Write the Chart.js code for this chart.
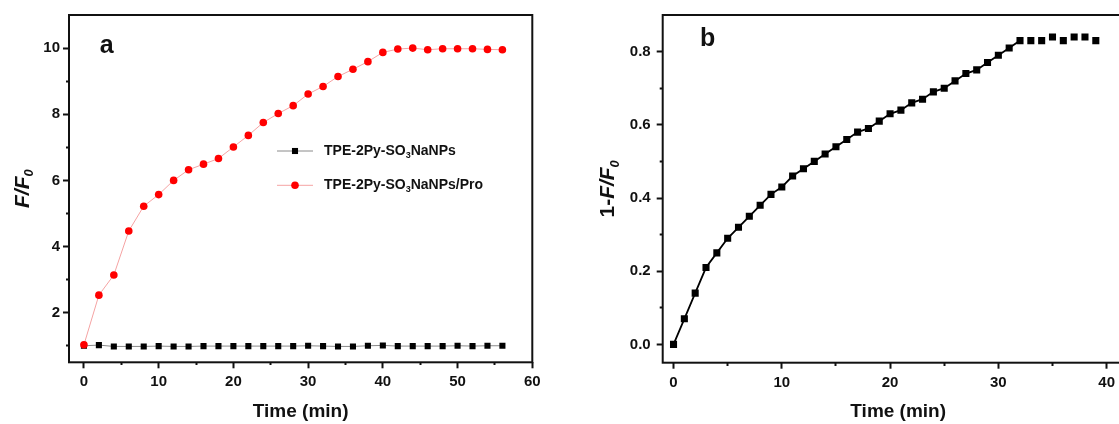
<!DOCTYPE html>
<html lang="en">
<head>
<meta charset="UTF-8">
<title>TPE-2Py-SO3NaNPs fluorescence vs time</title>
<script src="https://cdn.jsdelivr.net/npm/chart.js"></script>
<style>
    html, body {
        margin: 0;
        padding: 0;
        background: #ffffff;
        overflow: hidden;
    }
    .wrap {
        position: relative;
        width: 1119px;
        height: 424px;
        overflow: hidden;
    }
    #chartA { position: absolute; left: 0; top: 0; }
    #chartB { position: absolute; left: 560px; top: 0; }
</style>
</head>
<body>
<div class="wrap">
    <canvas id="chartA" width="560" height="424"></canvas>
    <canvas id="chartB" width="600" height="424"></canvas>
</div>
<script>
// panel a : F/F0 vs time
const timeA = [0, 2, 4, 6, 8, 10, 12, 14, 16, 18, 20, 22, 24, 26, 28, 30, 32, 34, 36, 38, 40, 42, 44, 46, 48, 50, 52, 54, 56];
const nanoOnly = [1.00, 1.02, 0.98, 0.98, 0.98, 0.99, 0.98, 0.98, 0.99, 0.99, 0.99, 0.99, 0.99, 0.99, 0.99, 1.00, 0.99, 0.98, 0.98, 1.00, 1.01, 0.99, 0.99, 0.99, 0.99, 1.00, 0.99, 1.00, 1.00];
const nanoPro = [1.03, 2.53, 3.14, 4.47, 5.22, 5.57, 6.00, 6.32, 6.49, 6.66, 7.01, 7.36, 7.75, 8.02, 8.26, 8.61, 8.84, 9.14, 9.36, 9.59, 9.87, 9.97, 10.00, 9.95, 9.98, 9.98, 9.98, 9.96, 9.95];
const labelsA = ['TPE-2Py-SO3NaNPs', 'TPE-2Py-SO3NaNPs/Pro'];

// panel b : 1-F/F0 vs time
const timeB = [0, 1, 2, 3, 4, 5, 6, 7, 8, 9, 10, 11, 12, 13, 14, 15, 16, 17, 18, 19, 20, 21, 22, 23, 24, 25, 26, 27, 28, 29, 30, 31, 32, 33, 34, 35, 36, 37, 38, 39];
const quench = [0.00, 0.07, 0.14, 0.21, 0.25, 0.29, 0.32, 0.35, 0.38, 0.41, 0.43, 0.46, 0.48, 0.50, 0.52, 0.54, 0.56, 0.58, 0.59, 0.61, 0.63, 0.64, 0.66, 0.67, 0.69, 0.70, 0.72, 0.74, 0.75, 0.77, 0.79, 0.81, 0.83, 0.83, 0.83, 0.84, 0.83, 0.84, 0.84, 0.83];

// ticks (majeurs = avec etiquette)
const xTicksA = [0, 5, 10, 15, 20, 25, 30, 35, 40, 45, 50, 55, 60];
const yTicksA = [1, 2, 3, 4, 5, 6, 7, 8, 9, 10];
const xTicksB = [0, 5, 10, 15, 20, 25, 30, 35, 40];
const yTicksB = [0, 0.1, 0.2, 0.3, 0.4, 0.5, 0.6, 0.7, 0.8];

const FONT = "'Liberation Sans', Arial, sans-serif";
const INK = '#111111';

// texte avec italique / indice
function richParts(ctx, parts, size) {
    return parts.map(p => {
        const s = p.sub ? Math.round(size * 0.62) : size;
        const font = (p.italic ? 'italic ' : '') + 'bold ' + s + 'px ' + FONT;
        ctx.font = font;
        return { text: p.text, font: font, dy: p.sub ? size * 0.32 : 0, w: ctx.measureText(p.text).width };
    });
}

function drawRich(ctx, parts, x, y, size, rotate) {
    const items = richParts(ctx, parts, size);
    const total = items.reduce((a, b) => a + b.w, 0);
    ctx.save();
    ctx.translate(x, y);
    if (rotate) ctx.rotate(-Math.PI / 2);
    ctx.textBaseline = 'middle';
    ctx.textAlign = 'left';
    ctx.fillStyle = INK;
    let cx = rotate ? -total / 2 : 0;
    items.forEach(it => {
        ctx.font = it.font;
        ctx.fillText(it.text, cx, it.dy);
        cx += it.w;
    });
    ctx.restore();
}

// "SO3" -> SO + indice 3
function labelParts(label) {
    const i = label.indexOf('SO3');
    if (i < 0) return [{ text: label }];
    return [{ text: label.slice(0, i + 2) }, { text: '3', sub: true }, { text: label.slice(i + 3) }];
}

function drawMarker(ctx, style, r, color, x, y) {
    ctx.fillStyle = color;
    ctx.beginPath();
    if (style === 'rect') {
        const s = r * Math.SQRT1_2;
        ctx.rect(x - s, y - s, 2 * s, 2 * s);
    } else {
        ctx.arc(x, y, r, 0, Math.PI * 2);
    }
    ctx.fill();
}

const decorPlugin = {
    id: 'decor',
    afterDraw(chart, args, opts) {
        const ctx = chart.ctx;
        const a = chart.chartArea;
        // cadre
        ctx.save();
        ctx.strokeStyle = INK;
        ctx.lineWidth = 2;
        ctx.strokeRect(a.left, a.top, a.right - a.left, a.bottom - a.top);
        ctx.restore();

        // lettre du panneau
        ctx.save();
        ctx.font = 'bold 25px ' + FONT;
        ctx.fillStyle = INK;
        ctx.textAlign = 'center';
        ctx.textBaseline = 'middle';
        ctx.fillText(opts.letter, a.left + opts.letterDx, a.top + opts.letterDy);
        ctx.restore();

        // titre axe y
        drawRich(ctx, opts.yTitle, a.left - opts.yTitleDx, (a.top + a.bottom) / 2, 21, true);

        // legende dans le graphe
        if (opts.legend) {
            const lg = opts.legend;
            lg.order.forEach((di, row) => {
                const ds = chart.data.datasets[di];
                const y = a.top + lg.dy + row * lg.rowGap;
                const x0 = a.left + lg.dx;
                ctx.save();
                ctx.strokeStyle = ds.borderColor;
                ctx.lineWidth = ds.borderWidth;
                ctx.beginPath();
                ctx.moveTo(x0, y);
                ctx.lineTo(x0 + lg.lineLen, y);
                ctx.stroke();
                drawMarker(ctx, ds.pointStyle, ds.pointRadius, ds.pointBackgroundColor, x0 + lg.lineLen / 2, y);
                ctx.restore();
                drawRich(ctx, labelParts(ds.label), x0 + lg.lineLen + lg.textGap, y, 14, false);
            });
        }
    }
};

function tickFont() {
    return { family: FONT, size: 15, weight: 'bold' };
}

// petites graduations : seulement la moitie interieure du trait
function gridOpts(isMinor, inward) {
    return {
        drawOnChartArea: false,
        drawTicks: true,
        tickLength: 6,
        tickWidth: 2,
        tickColor: INK,
        tickBorderDash: c => (c.tick && isMinor(c.tick.value) ? (inward ? [3, 20] : [0, 3, 3, 20]) : [])
    };
}

// graphique a
new Chart(document.getElementById('chartA'), {
    type: 'line',
    data: {
        datasets: [{
            label: labelsA[0],
            data: timeA.map((t, i) => ({ x: t, y: nanoOnly[i] })),
            borderColor: '#8a8a8a',
            borderWidth: 1,
            pointStyle: 'rect',
            pointRadius: 4.3,
            pointBorderWidth: 0,
            pointBackgroundColor: '#000000',
            order: 1
        }, {
            label: labelsA[1],
            data: timeA.map((t, i) => ({ x: t, y: nanoPro[i] })),
            borderColor: '#f5a3a3',
            borderWidth: 1,
            pointStyle: 'circle',
            pointRadius: 3.8,
            pointBorderWidth: 0,
            pointBackgroundColor: '#ff0000',
            order: 0
        }]
    },
    options: {
        responsive: false,
        animation: false,
        layout: { padding: { top: 15, right: 27.7, bottom: 0, left: 0 } },
        plugins: {
            legend: { display: false },
            tooltip: { enabled: false },
            decor: {
                letter: 'a', letterDx: 37.7, letterDy: 31.3,
                yTitle: [{ text: 'F/F', italic: true }, { text: '0', italic: true, sub: true }],
                yTitleDx: 46,
                legend: { order: [0, 1], dx: 208, dy: 136, rowGap: 34.3, lineLen: 36, textGap: 11 }
            }
        },
        scales: {
            x: {
                type: 'linear',
                min: -2,
                max: 60,
                afterBuildTicks: s => { s.ticks = xTicksA.map(v => ({ value: v })); },
                afterFit: s => { s.height = 61.7; },
                border: { display: false },
                grid: gridOpts(v => v % 10 !== 0, true),
                ticks: {
                    color: INK, font: tickFont(), padding: 5, maxRotation: 0,
                    callback: v => (v % 10 === 0 ? v : '')
                },
                title: {
                    display: true, text: 'Time (min)', color: INK,
                    font: { family: FONT, size: 19, weight: 'bold' },
                    padding: { top: 0, bottom: 1 }
                }
            },
            y: {
                type: 'linear',
                min: 0.5,
                max: 11,
                afterBuildTicks: s => { s.ticks = yTicksA.map(v => ({ value: v })); },
                afterFit: s => { s.width = 69; },
                border: { display: false },
                grid: gridOpts(v => v % 2 !== 0, false),
                ticks: {
                    color: INK, font: tickFont(), padding: 3,
                    callback: v => (v % 2 === 0 ? v : '')
                }
            }
        }
    },
    plugins: [decorPlugin]
});

// graphique b
new Chart(document.getElementById('chartB'), {
    type: 'line',
    data: {
        datasets: [{
            label: '1-F/F0',
            data: timeB.map((t, i) => ({ x: t, y: quench[i] })),
            borderColor: '#000000',
            borderWidth: 1.8,
            pointStyle: 'rect',
            pointRadius: 5,
            pointBorderWidth: 0,
            pointBackgroundColor: '#000000',
            segment: {
                borderColor: c => (c.p0.parsed.x >= 32 ? 'rgba(0,0,0,0)' : '#000000')
            }
        }]
    },
    options: {
        responsive: false,
        animation: false,
        layout: { padding: { top: 15, right: 26.3, bottom: 0, left: 0 } },
        plugins: {
            legend: { display: false },
            tooltip: { enabled: false },
            decor: {
                letter: 'b', letterDx: 45, letterDy: 24.5,
                yTitle: [{ text: '1-' }, { text: 'F/F', italic: true }, { text: '0', italic: true, sub: true }],
                yTitleDx: 54
            }
        },
        scales: {
            x: {
                type: 'linear',
                min: -1,
                max: 42.5,
                afterBuildTicks: s => { s.ticks = xTicksB.map(v => ({ value: v })); },
                afterFit: s => { s.height = 61.3; },
                border: { display: false },
                grid: gridOpts(v => v % 10 !== 0, true),
                ticks: {
                    color: INK, font: tickFont(), padding: 5, maxRotation: 0,
                    callback: v => (v % 10 === 0 ? v : '')
                },
                title: {
                    display: true, text: 'Time (min)', color: INK,
                    font: { family: FONT, size: 19, weight: 'bold' },
                    padding: { top: 0, bottom: 1 }
                }
            },
            y: {
                type: 'linear',
                min: -0.05,
                max: 0.9,
                afterBuildTicks: s => { s.ticks = yTicksB.map(v => ({ value: v })); },
                afterFit: s => { s.width = 102.7; },
                border: { display: false },
                grid: gridOpts(v => Math.round(v * 10) % 2 !== 0, false),
                ticks: {
                    color: INK, font: tickFont(), padding: 6,
                    callback: v => (Math.round(v * 10) % 2 === 0 ? v.toFixed(1) : '')
                }
            }
        }
    },
    plugins: [decorPlugin]
});
</script>
</body>
</html>
